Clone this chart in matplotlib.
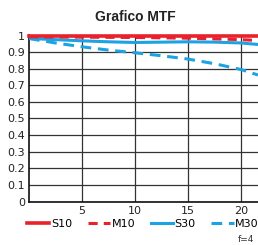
import matplotlib
matplotlib.use("Agg")
import matplotlib.pyplot as plt

# distance from center (mm)
x_pos = [0, 2.5, 5, 7.5, 10, 12.5, 15, 17.5, 20, 21.6]

s10 = [0.998, 0.998, 0.998, 0.998, 0.998, 0.998, 0.998, 0.998, 0.998, 0.998]
m10 = [0.992, 0.991, 0.990, 0.989, 0.988, 0.986, 0.984, 0.980, 0.975, 0.970]
s30 = [0.982, 0.975, 0.968, 0.962, 0.958, 0.960, 0.962, 0.960, 0.955, 0.946]
m30 = [0.982, 0.955, 0.932, 0.912, 0.896, 0.878, 0.858, 0.830, 0.795, 0.762]

x_ticks = [5, 10, 15, 20]
y_ticks = [0, 0.1, 0.2, 0.3, 0.4, 0.5, 0.6, 0.7, 0.8, 0.9, 1]
y_labels = ["0", "0.1", "0.2", "0.3", "0.4", "0.5", "0.6", "0.7", "0.8", "0.9", "1"]

red = "#e8212b"
blue = "#1ba3e3"

plt.rcParams["font.family"] = ["DejaVu Sans"]

fig = plt.figure(figsize=(2.58, 2.45), dpi=100)
ax = fig.add_axes([29 / 258, 1 - 201.5 / 245, 229 / 258, 166 / 245])

ax.plot(x_pos, s10, color=red, lw=2.6, label="S10", zorder=4, clip_on=False)
ax.plot(x_pos, m10, color=red, lw=2.2, ls=(0, (3, 2)), label="M10", zorder=5)
ax.plot(x_pos, s30, color=blue, lw=2.2, label="S30", zorder=3)
ax.plot(x_pos, m30, color=blue, lw=2.2, ls=(0, (3.5, 2.2)), label="M30", zorder=3)

ax.set_xlim(0, 21.6)
ax.set_ylim(0, 1)
ax.set_xticks(x_ticks)
ax.set_yticks(y_ticks)
ax.set_yticklabels(y_labels)
ax.tick_params(length=0, labelsize=8, colors="#222222", pad=3)
ax.grid(True, color="#333333", lw=0.9)
for side in ["top", "right"]:
    ax.spines[side].set_visible(False)
for side in ["left", "bottom"]:
    ax.spines[side].set_linewidth(1.2)
    ax.spines[side].set_color("#111111")

fig.text(0.525, 0.93, "Grafico MTF", ha="center", va="center",
         fontsize=10, fontweight="bold", family=["Liberation Sans Narrow", "Liberation Sans"],
         color="#222222")

fig.legend(loc="center left", bbox_to_anchor=(0.105, 1 - 224 / 245), ncol=4,
           frameon=False, fontsize=8, handlelength=2.0, handletextpad=0.15,
           columnspacing=1.4, borderaxespad=0, borderpad=0)

fig.text(0.985, 1 - 239 / 245, "f=4", ha="right", va="center", fontsize=6.5,
         color="#333333")

fig.savefig("out.png", dpi=100)
